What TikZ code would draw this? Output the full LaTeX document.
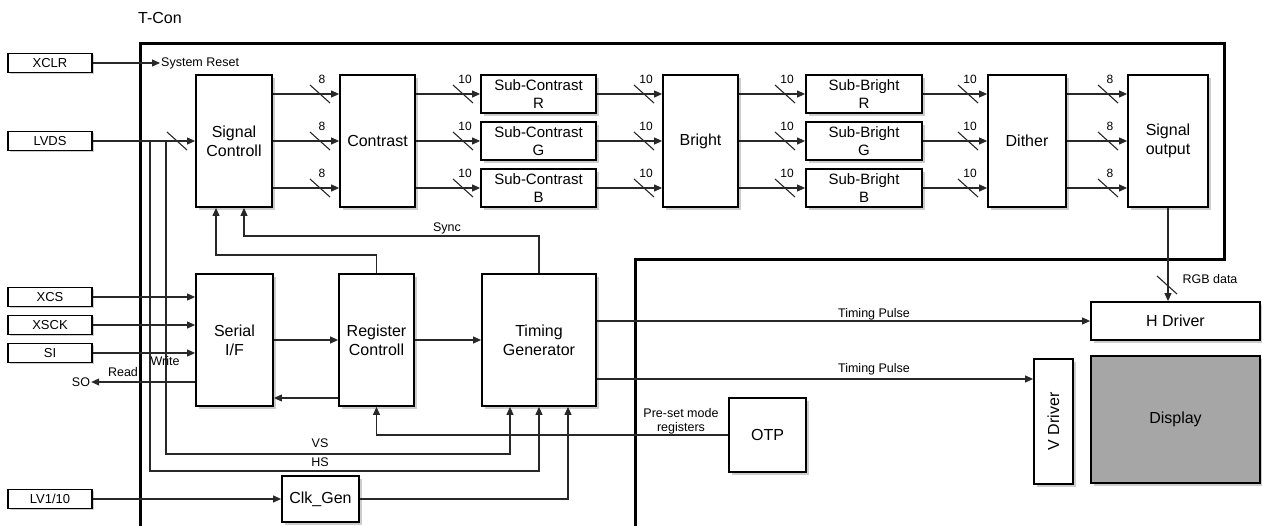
\documentclass[tikz,border=0pt]{standalone}
\usepackage{fontspec}
\setmainfont{Liberation Sans}
\usetikzlibrary{arrows.meta, positioning, shadows, calc}
\definecolor{shadowgray}{RGB}{205,205,205}
\definecolor{displaygray}{RGB}{166,166,166}
\definecolor{wiregray}{RGB}{40,40,40}

\tikzset{
  pics/busmark/.style={code={
    \draw[wire] (-10,-9) -- (10,9);
    \node[font=\fontsize{12}{13}\selectfont, inner sep=0pt] at (2,-15) {#1};
  }}
}

\begin{document}
\begin{tikzpicture}[x=1pt, y=-1pt,
  blk/.style={draw, line width=1.8pt, fill=white, align=center, inner sep=0pt,
    drop shadow={shadow xshift=3pt, shadow yshift=-3pt, fill=shadowgray, opacity=1},
    font=\fontsize{16}{19}\selectfont},
  subblk/.style={blk, minimum height=38pt, font=\fontsize{15}{18}\selectfont},
  pin/.style={draw, line width=1.1pt, fill=white, inner sep=0pt,
    minimum width=84pt, minimum height=19pt,
    drop shadow={shadow xshift=2pt, shadow yshift=-2pt, fill=shadowgray, opacity=1},
    font=\fontsize{13}{14}\selectfont},
  lbl/.style={font=\fontsize{12.5}{14}\selectfont, inner sep=1pt, align=center},
  wire/.style={line width=1.1pt, draw=wiregray},
  sig/.style={wire, -{Triangle[length=8pt,width=7pt]}}]

  \useasboundingbox (0,0) rectangle (1262,526);

  \draw[line width=3pt] (140,540) -- (140,44) -- (1224,44) -- (1224,260) -- (635,260) -- (635,540);
  \node[font=\fontsize{16}{19}\selectfont] (tcon) at (160,18) {T-Con};

  \node[pin] (xclr) at (50,63) {XCLR};
  \node[pin] (lvds) at (50,141) {LVDS};
  \node[pin] (xcs) at (50,297) {XCS};
  \node[pin] (xsck) at (50,325) {XSCK};
  \node[pin] (si) at (50,353) {SI};
  \node[pin] (lv) at (50,499) {LV1/10};

  \node[blk, minimum width=76pt, minimum height=132pt] (sc) at (234,141) {Signal\\Controll};
  \node[blk, minimum width=75pt, minimum height=132pt] (ct) at (377.5,141) {Contrast};
  \node[subblk, minimum width=115pt] (scr) at (538.5,94) {Sub-Contrast\\R};
  \node[subblk, minimum width=115pt] (scg) at (538.5,141) {Sub-Contrast\\G};
  \node[subblk, minimum width=115pt] (scb) at (538.5,188) {Sub-Contrast\\B};
  \node[blk, minimum width=75pt, minimum height=132pt] (br) at (700.5,141) {Bright};
  \node[subblk, minimum width=116pt] (sbr) at (864,94) {Sub-Bright\\R};
  \node[subblk, minimum width=116pt] (sbg) at (864,141) {Sub-Bright\\G};
  \node[subblk, minimum width=116pt] (sbb) at (864,188) {Sub-Bright\\B};
  \node[blk, minimum width=78pt, minimum height=132pt] (di) at (1027,141) {Dither};
  \node[blk, minimum width=80pt, minimum height=132pt] (so) at (1168,141) {Signal\\output};

  \node[blk, minimum width=77pt, minimum height=132pt] (sif) at (234.5,340) {Serial\\I/F};
  \node[blk, minimum width=75pt, minimum height=132pt] (rc) at (376.5,340) {Register\\Controll};
  \node[blk, minimum width=114pt, minimum height=132pt] (tg) at (539,340) {Timing\\Generator};
  \node[blk, minimum width=77pt, minimum height=46pt] (cg) at (320.5,499) {Clk\_Gen};
  \node[blk, minimum width=77pt, minimum height=74pt] (otp) at (767.5,435) {OTP};

  \node[blk, minimum width=169pt, minimum height=38pt] (hd) at (1175.5,321) {H Driver};
  \node[blk, minimum width=39pt, minimum height=125pt] (vd) at (1053.5,421.5) {};
  \node[rotate=90, font=\fontsize{16}{19}\selectfont] (vdt) at (vd) {V Driver};
  \node[blk, fill=displaygray, minimum width=169pt, minimum height=127pt] (dsp) at (1175.5,419.5) {Display};

  \node[lbl, anchor=west] (rst) at (160,63) {System Reset};
  \draw[sig] (xclr) -- (rst);

  \foreach \y/\c/\b in {94/scr/sbr, 141/scg/sbg, 188/scb/sbb} {
    \draw[sig] (sc.east |- 0,\y) -- (ct.west |- 0,\y);
    \draw[sig] (ct.east |- 0,\y) -- (\c);
    \draw[sig] (\c) -- (br.west |- 0,\y);
    \draw[sig] (br.east |- 0,\y) -- (\b);
    \draw[sig] (\b) -- (di.west |- 0,\y);
    \draw[sig] (di.east |- 0,\y) -- (so.west |- 0,\y);
    \foreach \x/\n in {320/8, 463/10, 644/10, 785/10, 968/10, 1108/8}
      \pic at (\x,\y) {busmark=\n};
  }

  \draw[sig] (lvds) -- (sc);
  \pic at (177,141) {busmark=};
  \coordinate (hsx) at (150,141);
  \coordinate (vsx) at (166,141);
  \coordinate (tgvs) at ([xshift=-29pt]tg.south);
  \coordinate (tgcl) at ([xshift=29pt]tg.south);
  \draw[sig] (vsx) -- (vsx |- 0,454) -| (tgvs);
  \draw[sig] (hsx) -- (hsx |- 0,471) -| (tg);
  \node[lbl] (vs) at (320,443) {VS};
  \node[lbl] (hs) at (320,462) {HS};

  \draw[sig] (xcs) -- (sif.west |- xcs);
  \draw[sig] (xsck) -- (sif.west |- xsck);
  \draw[sig] (si) -- (sif.west |- si);
  \node[lbl] (sout) at (81,382) {SO};
  \draw[sig] (sif.west |- sout) -- (sout);
  \node[lbl] (rd) at (123,372) {Read};
  \node[lbl] (wr) at (165,361) {Write};

  \draw[sig] (sif) -- (rc);
  \draw[sig] (rc.west |- 0,398) -- (sif.east |- 0,398);
  \draw[sig] (rc) -- (tg);
  \draw[sig] (rc.north) -- (rc.north |- 0,255) -| ([xshift=-18pt]sc.south);
  \draw[sig] (tg.north) -- (tg.north |- 0,236) -| ([xshift=10pt]sc.south);
  \node[lbl] (sync) at (447,228) {Sync};

  \draw[sig] (tg.east |- hd) -- (hd);
  \node[lbl] (tp1) at (874,314) {Timing Pulse};
  \draw[sig] (tg.east |- 0,379) -- (vd.west |- 0,379);
  \node[lbl] (tp2) at (874,369) {Timing Pulse};

  \draw[sig] (otp) -| (rc);
  \node[lbl] (pre) at (681,421) {Pre-set mode\\registers};

  \draw[sig] (lv) -- (cg);
  \draw[sig] (cg) -| (tgcl);

  \draw[sig] (so) -- (so |- hd.north);
  \pic at (1167,285) {busmark=};
  \node[lbl] (rgb) at (1210,279) {RGB data};
\end{tikzpicture}
\end{document}
